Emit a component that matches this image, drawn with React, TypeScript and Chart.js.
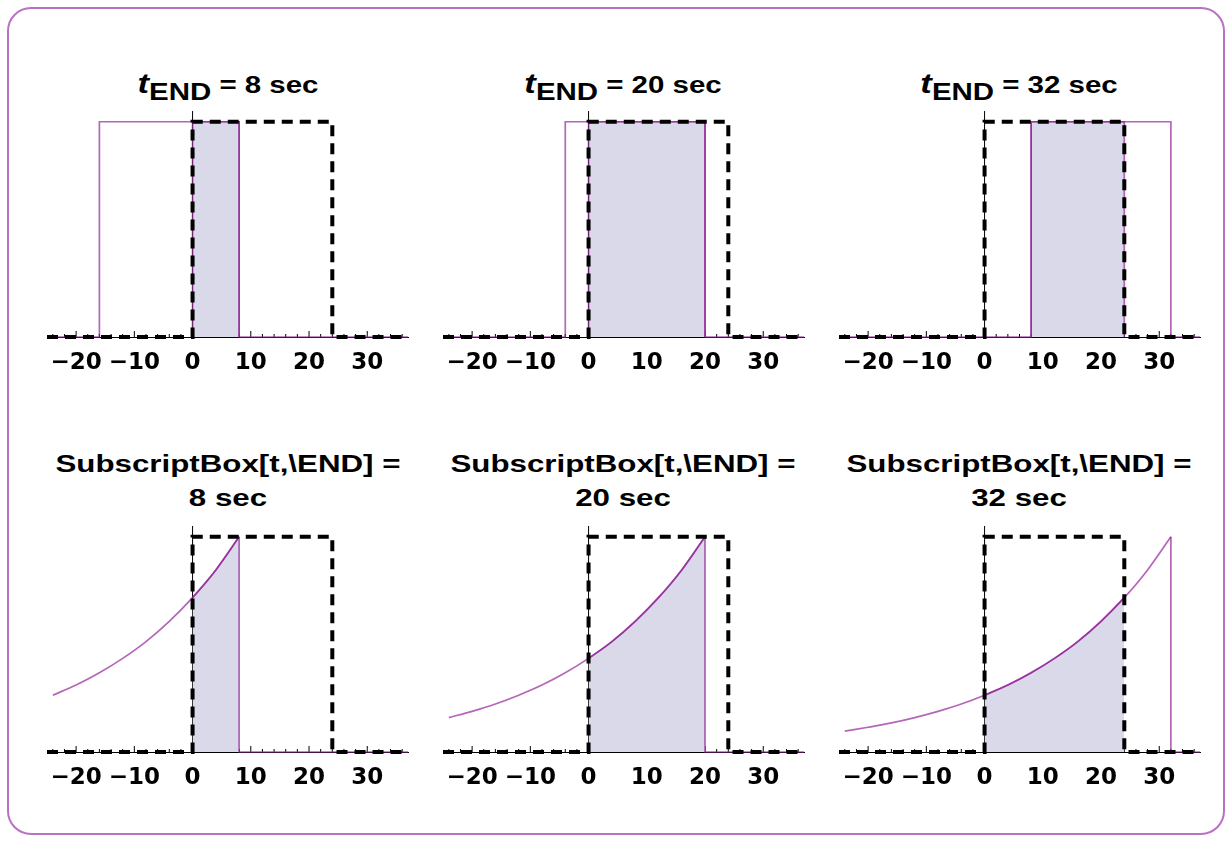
import React, { useEffect, useRef } from "react";
import { Chart, registerables } from "chart.js";

Chart.register(...registerables);

// ---------- data ----------
const endTimes = [8, 20, 32];
const pulseLength = 24;
const windowStart = 0;
const windowEnd = 24;
const xMin = -25;
const xMax = 37;
const yMax = 1.05;
const tickValues = [-20, -10, 0, 10, 20, 30];

const decayT8 = [-24, -20, -16, -12, -8, -4, 0, 4, 8];
const decayY8 = [0.264, 0.311, 0.368, 0.435, 0.513, 0.607, 0.717, 0.846, 1.0];
const decayT20 = [-24, -20, -16, -12, -8, -4, 0, 4, 8, 12, 16, 20];
const decayY20 = [0.16, 0.189, 0.223, 0.264, 0.311, 0.368, 0.435, 0.513, 0.607, 0.717, 0.846, 1.0];
const decayT32 = [-24, -20, -16, -12, -8, -4, 0, 4, 8, 12, 16, 20, 24, 28, 32];
const decayY32 = [0.097, 0.115, 0.135, 0.16, 0.189, 0.223, 0.264, 0.311, 0.368, 0.435, 0.513, 0.607, 0.717, 0.846, 1.0];

const decayT = [decayT8, decayT20, decayT32];
const decayY = [decayY8, decayY20, decayY32];

// ---------- styles ----------
const PURPLE = "rgba(145, 30, 150, 0.68)";
const FILL = "rgb(217, 217, 234)";
const COL_LEFT = [47, 442.75, 838.5];
const AREA_TOP = [111, 525.5];
const AREA_W = 361;
const AREA_H = 226;
const PAD_L = 10;
const PAD_T = 16;
const AXIS_H = 40;
const LW = 1.7;

function pts(xs: number[], ys: number[]) {
  return xs.map((x, i) => ({ x, y: ys[i] }));
}

const axisPlugin = {
  id: "axisDecor",
  beforeDatasetsDraw(chart: any) {
    const { ctx, chartArea, scales } = chart;
    const xs = scales.x;
    const ys = scales.y;
    const x0 = xs.getPixelForValue(0);
    const yb = ys.getPixelForValue(0);
    ctx.save();
    ctx.strokeStyle = "#000";
    ctx.lineWidth = 1;
    ctx.beginPath();
    ctx.moveTo(x0, yb);
    ctx.lineTo(x0, chartArea.top);
    ctx.stroke();
    for (let v = -24; v <= 36; v += 2) {
      const px = xs.getPixelForValue(v);
      const len = v % 10 === 0 ? 6 : 3;
      ctx.beginPath();
      ctx.moveTo(px, yb);
      ctx.lineTo(px, yb - len);
      ctx.stroke();
    }
    ctx.restore();
  },
};

function Panel({ row, col }: { row: number; col: number }) {
  const ref = useRef<HTMLCanvasElement | null>(null);
  useEffect(() => {
    const tEnd = endTimes[col];
    const windowPts = [
      { x: xMin, y: 0 },
      { x: windowStart, y: 0 },
      { x: windowStart, y: 1 },
      { x: windowEnd, y: 1 },
      { x: windowEnd, y: 0 },
      { x: xMax, y: 0 },
    ];
    const datasets: any[] = [];
    if (row === 0) {
      const s = tEnd - pulseLength;
      const a = Math.max(windowStart, s);
      const b = Math.min(windowEnd, tEnd);
      datasets.push({
        data: [
          { x: a, y: 0 },
          { x: a, y: 1 },
          { x: b, y: 1 },
          { x: b, y: 0 },
        ],
        fill: "origin",
        backgroundColor: FILL,
        borderColor: PURPLE,
        borderWidth: LW,
        order: 3,
      });
      datasets.push({
        data: [
          { x: xMin, y: 0 },
          { x: s, y: 0 },
          { x: s, y: 1 },
          { x: tEnd, y: 1 },
          { x: tEnd, y: 0 },
          { x: xMax, y: 0 },
        ],
        borderColor: PURPLE,
        borderWidth: LW,
        fill: false,
        order: 2,
      });
    } else {
      const a = windowStart;
      const b = Math.min(windowEnd, tEnd);
      const all = pts(decayT[col], decayY[col]);
      const overlap = all.filter((p) => p.x >= a && p.x <= b);
      datasets.push({
        data: overlap,
        fill: "origin",
        backgroundColor: FILL,
        borderColor: PURPLE,
        borderWidth: LW,
        cubicInterpolationMode: "monotone",
        order: 3,
      });
      datasets.push({
        data: all,
        borderColor: PURPLE,
        borderWidth: LW,
        fill: false,
        cubicInterpolationMode: "monotone",
        order: 2,
      });
      datasets.push({
        data: [
          { x: tEnd, y: 1 },
          { x: tEnd, y: 0 },
          { x: xMax, y: 0 },
        ],
        borderColor: PURPLE,
        borderWidth: LW,
        fill: false,
        order: 2,
      });
    }
    datasets.push({
      data: windowPts,
      borderColor: "#000",
      borderWidth: 4,
      borderDash: [11, 7],
      borderCapStyle: "butt",
      fill: false,
      order: 1,
    });
    datasets.forEach((d) => {
      d.pointRadius = 0;
      d.clip = false;
      if (d.tension === undefined) d.tension = 0;
    });

    const chart = new Chart(ref.current as HTMLCanvasElement, {
      type: "line",
      data: { datasets },
      plugins: [axisPlugin],
      options: {
        animation: false,
        responsive: false,
        devicePixelRatio: 1,
        layout: { padding: { left: PAD_L, right: PAD_L, top: PAD_T, bottom: 0 } },
        plugins: { legend: { display: false }, tooltip: { enabled: false }, title: { display: false } },
        scales: {
          x: {
            type: "linear",
            min: xMin,
            max: xMax,
            afterBuildTicks: (s: any) => {
              s.ticks = tickValues.map((v) => ({ value: v }));
            },
            afterFit: (s: any) => {
              s.height = AXIS_H;
            },
            grid: { display: true, drawOnChartArea: false, drawTicks: false },
            border: { display: true, color: "#000", width: 1 },
            ticks: {
              padding: 12,
              color: "#000",
              maxRotation: 0,
              autoSkip: false,
              font: { family: "'DejaVu Sans', sans-serif", weight: "bold", size: 23 },
              callback: (v: any) => (Number(v) < 0 ? "\u2212" + Math.abs(Number(v)) : String(v)),
            },
          },
          y: { type: "linear", min: 0, max: yMax, display: false },
        },
      } as any,
    });
    return () => chart.destroy();
  }, [row, col]);

  const left = COL_LEFT[col] - PAD_L;
  const top = AREA_TOP[row] - PAD_T;
  return (
    <canvas
      ref={ref}
      width={AREA_W + 2 * PAD_L}
      height={PAD_T + AREA_H + AXIS_H}
      style={{ position: "absolute", left, top, width: AREA_W + 2 * PAD_L, height: PAD_T + AREA_H + AXIS_H }}
    />
  );
}

const titleBase: React.CSSProperties = {
  position: "absolute",
  width: 420,
  textAlign: "center",
  fontFamily: "'Liberation Sans', Arial, sans-serif",
  fontWeight: "bold",
  fontSize: 23,
  lineHeight: "34px",
  color: "#000",
  transform: "scaleX(1.36)",
  transformOrigin: "center",
  whiteSpace: "nowrap",
};

export default function App() {
  const rows = [0, 1];
  const cols = [0, 1, 2];
  return (
    <div style={{ position: "absolute", left: 0, top: 0, width: 1232, height: 842, background: "#fff" }}>
      <div
        style={{
          position: "absolute",
          left: 7,
          top: 7,
          width: 1218,
          height: 828,
          boxSizing: "border-box",
          border: "2px solid #b972c3",
          borderRadius: 24,
        }}
      />
      {cols.map((c) => {
        const center = COL_LEFT[c] + AREA_W / 2;
        return (
          <React.Fragment key={c}>
            <div style={{ ...titleBase, left: center - 210, top: 67, transform: "scaleX(1.28)" }}>
              <span style={{ fontStyle: "italic", fontSize: 27 }}>t</span>
              <span style={{ position: "relative", top: 7 }}>END</span>
              {" = " + endTimes[c] + " sec"}
            </div>
            <div style={{ ...titleBase, left: center - 210, top: 447 }}>
              {"SubscriptBox[t,\\END] ="}
              <br />
              {endTimes[c] + " sec"}
            </div>
          </React.Fragment>
        );
      })}
      {rows.map((r) => cols.map((c) => <Panel key={r + "-" + c} row={r} col={c} />))}
    </div>
  );
}
